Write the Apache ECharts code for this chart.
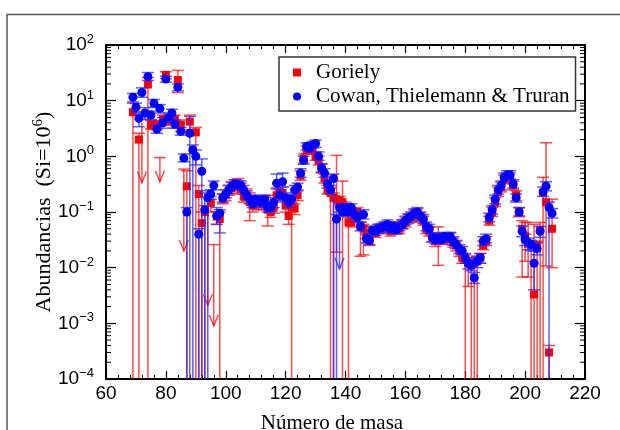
<!DOCTYPE html>
<html>
<head>
<meta charset="utf-8">
<script src="https://cdn.jsdelivr.net/npm/echarts@6.0.0/dist/echarts.min.js"></script>
<style>
  html, body { margin: 0; padding: 0; background: #fff; }
  #main { width: 620px; height: 430px; }
</style>
</head>
<body>
<div id="main"></div>
<script>
// Goriely: mass number, abundance, lower / upper end of the bar (0 = runs below the axis)
var gorMass = [69, 71, 74, 75, 76, 77, 79, 80, 81, 82,
  83, 84, 85, 87, 88, 90, 91, 92, 93, 95,
  97, 98, 99, 100, 101, 102, 103, 104, 105, 106,
  107, 108, 109, 110, 111, 112, 113, 114, 115, 116,
  117, 118, 119, 120, 121, 122, 123, 124, 125, 126,
  127, 128, 129, 130, 131, 132, 133, 134, 135, 136,
  137, 138, 139, 140, 141, 142, 143, 144, 145, 146,
  147, 148, 149, 150, 151, 152, 153, 154, 155, 156,
  157, 158, 159, 160, 161, 162, 163, 164, 165, 166,
  167, 168, 169, 170, 171, 172, 173, 174, 175, 176,
  177, 178, 179, 180, 181, 182, 183, 184, 185, 186,
  187, 188, 189, 190, 191, 192, 193, 194, 195, 196,
  197, 198, 199, 200, 201, 202, 203, 204, 205, 206,
  207, 208, 209];
var gorVal = [6.2, 2.0, 19.5, 3.7, 3.7, 3.6, 4.6, 29, 4.6, 4.4,
  4.6, 23.5, 3.7, 0.29, 4.2, 2.7, 0.21, 0.063, 0.1, 0.145,
  0.083, 0.075, 0.17, 0.2, 0.24, 0.27, 0.3, 0.3, 0.26, 0.19,
  0.2, 0.15, 0.13, 0.15, 0.14, 0.14, 0.15, 0.11, 0.1, 0.12,
  0.2, 0.23, 0.22, 0.13, 0.085, 0.12, 0.115, 0.2, 0.45, 0.9,
  1.3, 1.4, 1.3, 1.0, 0.85, 0.6, 0.4, 0.25, 0.22, 0.18,
  0.17, 0.16, 0.15, 0.12, 0.065, 0.065, 0.08, 0.1, 0.055, 0.05,
  0.04, 0.03, 0.045, 0.042, 0.05, 0.05, 0.055, 0.055, 0.045, 0.055,
  0.05, 0.05, 0.06, 0.065, 0.075, 0.08, 0.09, 0.095, 0.08, 0.07,
  0.05, 0.045, 0.035, 0.03, 0.03, 0.035, 0.035, 0.032, 0.035, 0.028,
  0.025, 0.02, 0.015, 0.014, 0.012, 0.011, 0.012, 0.013, 0.015, 0.025,
  0.03, 0.07, 0.1, 0.15, 0.23, 0.28, 0.38, 0.42, 0.42, 0.3,
  0.2, 0.1, 0.05, 0.037, 0.027, 0.025, 0.0033, 0.025, 0.048, 0.22,
  0.15, 0.0003, 0.05];
var gorLo = [0, 0, 0, 3.1, 3.1, 3.0, 3.8, 25, 3.8, 3.6,
  3.2, 14, 2.8, 0, 3.0, 0, 0, 0, 0, 0.1,
  0.06, 0, 0.14, 0.16, 0.2, 0.22, 0.25, 0.25, 0.21, 0.15,
  0.16, 0.07, 0.1, 0.12, 0.11, 0.11, 0.12, 0.056, 0.08, 0.095,
  0.16, 0.18, 0.18, 0.1, 0.06, 0, 0.09, 0.16, 0.37, 0.75,
  1.1, 1.15, 1.1, 0.85, 0.7, 0.5, 0.33, 0.21, 0, 0,
  0.019, 0.13, 0, 0.1, 0, 0.054, 0.066, 0.08, 0.016, 0.017,
  0.033, 0.025, 0.037, 0.035, 0.041, 0.041, 0.045, 0.045, 0.037, 0.045,
  0.041, 0.041, 0.05, 0.054, 0.062, 0.066, 0.075, 0.079, 0.066, 0.058,
  0.041, 0.037, 0.029, 0.024, 0.011, 0.029, 0.029, 0.026, 0.029, 0.023,
  0.02, 0.016, 0.012, 0, 0.0046, 0, 0, 0, 0.012, 0.021,
  0.025, 0.058, 0.083, 0.125, 0.19, 0.23, 0.32, 0.35, 0.35, 0.25,
  0.16, 0.082, 0.0068, 0.013, 0.0068, 0, 0, 0, 0, 0,
  0.0107, 0, 0.01];
var gorHi = [9, 2.6, 26, 4.4, 4.4, 4.3, 5.5, 33, 5.5, 5.3,
  5.5, 35, 4.5, 0.55, 5.5, 3.3, 0.3, 0.1, 0.13, 0.19,
  0.1, 0.1, 0.21, 0.25, 0.3, 0.35, 0.38, 0.4, 0.33, 0.24,
  0.26, 0.22, 0.17, 0.19, 0.18, 0.18, 0.19, 0.2, 0.13, 0.15,
  0.26, 0.3, 0.28, 0.17, 0.12, 0.15, 0.14, 0.25, 0.55, 1.1,
  1.55, 1.7, 1.55, 1.2, 1.0, 0.72, 0.48, 0.3, 0.27, 0.22,
  1.04, 0.19, 0.36, 0.15, 0.08, 0.08, 0.095, 0.12, 0.066, 0.06,
  0.048, 0.036, 0.054, 0.05, 0.06, 0.06, 0.066, 0.066, 0.054, 0.066,
  0.06, 0.06, 0.072, 0.078, 0.09, 0.096, 0.108, 0.114, 0.096, 0.084,
  0.06, 0.054, 0.042, 0.036, 0.054, 0.042, 0.042, 0.038, 0.042, 0.034,
  0.03, 0.024, 0.018, 0.017, 0.015, 0.013, 0.015, 0.016, 0.018, 0.03,
  0.036, 0.084, 0.12, 0.18, 0.28, 0.34, 0.46, 0.5, 0.5, 0.36,
  0.24, 0.12, 0.07, 0.065, 0.065, 0.03, 0.06, 0.03, 0.065, 0.42,
  1.75, 0.0004, 0.17];
// Goriely upper limits (arrows)
var gorLimMass = [72, 78, 86, 94, 96];
var gorLimFrom = [4, 0.95, 0.59, 0.2, 0.026];
var gorLimTo = [0.34, 0.35, 0.02, 0.0021, 0.0009];
var gorLimCap = [0, 1, 1, 0, 1];

// Cowan, Thielemann & Truran
var ctMass = [69, 70, 71, 72, 73, 74, 75, 76, 77, 78,
  79, 80, 81, 82, 83, 84, 85, 86, 87, 88,
  89, 90, 91, 92, 93, 94, 95, 96, 97, 98,
  99, 100, 101, 102, 103, 104, 105, 106, 107, 108,
  109, 110, 111, 112, 113, 114, 115, 116, 117, 118,
  119, 120, 121, 122, 123, 124, 125, 126, 127, 128,
  129, 130, 131, 132, 133, 134, 135, 136, 137, 138,
  139, 140, 141, 142, 143, 144, 145, 146, 147, 148,
  149, 150, 151, 152, 153, 154, 155, 156, 157, 158,
  159, 160, 161, 162, 163, 164, 165, 166, 167, 168,
  169, 170, 171, 172, 173, 174, 175, 176, 177, 178,
  179, 180, 181, 182, 183, 184, 185, 186, 187, 188,
  189, 190, 191, 192, 193, 194, 195, 196, 197, 198,
  199, 200, 201, 202, 203, 204, 205, 206, 207, 208,
  209];
var ctVal = [11.5, 7.6, 4.8, 14, 6, 27, 5.5, 9, 3.1, 7.2,
  4, 24.5, 5, 6, 3.8, 17.5, 2.8, 0.93, 0.1, 2.6,
  1.3, 1.0, 0.04, 0.54, 0.11, 0.18, 0.21, 0.3, 0.085, 0.095,
  0.18, 0.21, 0.25, 0.29, 0.32, 0.31, 0.3, 0.25, 0.2, 0.17,
  0.14, 0.17, 0.16, 0.15, 0.17, 0.12, 0.12, 0.15, 0.33, 0.2,
  0.35, 0.18, 0.15, 0.17, 0.25, 0.28, 0.5, 0.85, 1.5, 1.4,
  1.6, 1.7, 1.0, 0.62, 0.5, 0.32, 0.25, 0.4, 0.075, 0.12,
  0.1, 0.12, 0.1, 0.12, 0.09, 0.08, 0.055, 0.09, 0.033, 0.031,
  0.047, 0.045, 0.05, 0.052, 0.055, 0.06, 0.05, 0.055, 0.048, 0.055,
  0.06, 0.07, 0.078, 0.085, 0.095, 0.1, 0.085, 0.075, 0.055, 0.05,
  0.035, 0.032, 0.034, 0.032, 0.036, 0.035, 0.036, 0.03, 0.026, 0.022,
  0.02, 0.015, 0.012, 0.011, 0.0066, 0.013, 0.015, 0.03, 0.033, 0.08,
  0.11, 0.17, 0.25, 0.3, 0.42, 0.46, 0.46, 0.32, 0.18, 0.1,
  0.045, 0.032, 0.028, 0.026, 0.012, 0.022, 0.045, 0.23, 0.29, 0.12,
  0.095];
var ctLo = [9.5, 6.3, 3.4, 11.5, 4.6, 23, 4.6, 7.6, 2.6, 6,
  3.2, 21.5, 4.1, 5, 3.2, 15, 2.4, 0.8, 0, 0,
  0, 0.7, 0, 0, 0, 0, 0.17, 0.25, 0.06, 0.042,
  0.15, 0.18, 0.21, 0.25, 0.27, 0.26, 0.25, 0.21, 0.17, 0.14,
  0.12, 0.14, 0.13, 0.12, 0.14, 0.1, 0.1, 0.12, 0.27, 0.16,
  0.28, 0.15, 0.12, 0.14, 0.21, 0.24, 0.42, 0.72, 1.3, 1.2,
  1.4, 1.45, 0.85, 0.52, 0.42, 0.27, 0.21, 0, 0, 0.1,
  0.085, 0.1, 0.085, 0.1, 0.075, 0.067, 0.046, 0.075, 0.028, 0.026,
  0.04, 0.038, 0.042, 0.044, 0.046, 0.05, 0.042, 0.046, 0.04, 0.046,
  0.05, 0.059, 0.065, 0.071, 0.08, 0.084, 0.071, 0.063, 0.046, 0.042,
  0.029, 0.027, 0.028, 0.027, 0.03, 0.029, 0.03, 0.025, 0.022, 0.018,
  0.017, 0.012, 0.0095, 0.0088, 0.0052, 0.01, 0.012, 0.025, 0.028, 0.067,
  0.092, 0.14, 0.21, 0.25, 0.35, 0.39, 0.39, 0.27, 0.15, 0.085,
  0.036, 0.025, 0.021, 0.02, 0.004, 0.017, 0.035, 0.19, 0.24, 0,
  0.078];
var ctHi = [13.5, 9, 6, 17, 7.5, 32, 6.5, 10.5, 3.7, 8.5,
  5, 27.5, 6, 7, 4.5, 20, 3.3, 1.1, 0.12, 5.2,
  1.6, 1.3, 0.05, 0.9, 0.22, 0.24, 0.25, 0.36, 0.12, 0.11,
  0.21, 0.25, 0.3, 0.34, 0.38, 0.37, 0.36, 0.3, 0.24, 0.2,
  0.17, 0.2, 0.19, 0.18, 0.2, 0.15, 0.15, 0.18, 0.48, 0.25,
  0.5, 0.22, 0.18, 0.2, 0.3, 0.33, 0.6, 1.0, 1.75, 1.65,
  1.85, 1.95, 1.2, 0.74, 0.6, 0.38, 0.3, 0.48, 0.09, 0.14,
  0.12, 0.14, 0.12, 0.14, 0.11, 0.095, 0.066, 0.11, 0.04, 0.037,
  0.056, 0.054, 0.06, 0.062, 0.066, 0.072, 0.06, 0.066, 0.057, 0.066,
  0.072, 0.084, 0.093, 0.1, 0.114, 0.12, 0.1, 0.09, 0.066, 0.06,
  0.042, 0.038, 0.041, 0.038, 0.043, 0.042, 0.043, 0.036, 0.031, 0.026,
  0.024, 0.018, 0.015, 0.014, 0.0082, 0.016, 0.018, 0.036, 0.04, 0.095,
  0.13, 0.2, 0.3, 0.36, 0.5, 0.55, 0.55, 0.38, 0.21, 0.12,
  0.056, 0.04, 0.034, 0.031, 0.02, 0.028, 0.055, 0.28, 0.35, 0.15,
  0.115];
// Cowan upper limit (arrow)
var ctLimMass = [138];
var ctLimFrom = [0.1];
var ctLimTo = [0.0095];
var ctLimCap = [0];

// log axis minor ticks: 2..9 inside each decade
var yDecades = [1e-4, 1e-3, 1e-2, 1e-1, 1, 10];
var yMinorSteps = [2, 3, 4, 5, 6, 7, 8, 9];

var RED = 'rgba(255,0,0,0.7)';
var BLUE = 'rgba(40,40,255,0.75)';

var chart = echarts.init(document.getElementById('main'));

function barItem(color) {
  return function (params, api) {
    var cs = params.coordSys;
    var x = api.value(0), lo = api.value(2), hi = api.value(3);
    var top = api.coord([x, hi]);
    var px = top[0];
    var bottom = cs.y + cs.height;
    var yLo = lo > 0 ? Math.min(api.coord([x, lo])[1], bottom) : bottom;
    var st = { stroke: color, lineWidth: 1.5 };
    var kids = [
      { type: 'line', shape: { x1: px, y1: top[1], x2: px, y2: yLo }, style: st },
      { type: 'line', shape: { x1: px - 6, y1: top[1], x2: px + 6, y2: top[1] }, style: st }
    ];
    if (lo > 0) {
      kids.push({ type: 'line', shape: { x1: px - 6, y1: yLo, x2: px + 6, y2: yLo }, style: st });
    }
    return { type: 'group', children: kids };
  };
}

function arrowItem(color) {
  return function (params, api) {
    var x = api.value(0);
    var p1 = api.coord([x, api.value(1)]);
    var p2 = api.coord([x, api.value(2)]);
    var st = { stroke: color, lineWidth: 1.5, fill: null };
    var kids = [
      { type: 'line', shape: { x1: p1[0], y1: p1[1], x2: p2[0], y2: p2[1] }, style: st },
      { type: 'polyline', shape: { points: [[p2[0] - 4.5, p2[1] - 11], [p2[0], p2[1]], [p2[0] + 4.5, p2[1] - 11]] }, style: st }
    ];
    if (api.value(3) > 0) {
      kids.push({ type: 'line', shape: { x1: p1[0] - 6, y1: p1[1], x2: p1[0] + 6, y2: p1[1] }, style: st });
    }
    return { type: 'group', children: kids };
  };
}

function minorTickItem(params, api) {
  var cs = params.coordSys;
  var y = api.coord([60, api.value(1)])[1];
  var st = { stroke: '#000', lineWidth: 1 };
  return {
    type: 'group',
    children: [
      { type: 'line', shape: { x1: cs.x, y1: y, x2: cs.x + 5, y2: y }, style: st },
      { type: 'line', shape: { x1: cs.x + cs.width - 5, y1: y, x2: cs.x + cs.width, y2: y }, style: st }
    ]
  };
}

var gorBars = gorMass.map(function (m, i) { return [m, gorVal[i], gorLo[i], gorHi[i]]; });
var ctBars = ctMass.map(function (m, i) { return [m, ctVal[i], ctLo[i], ctHi[i]]; });
var gorPts = gorMass.map(function (m, i) { return [m, gorVal[i]]; });
var ctPts = ctMass.map(function (m, i) { return [m, ctVal[i]]; });
var gorLims = gorLimMass.map(function (m, i) { return [m, gorLimFrom[i], gorLimTo[i], gorLimCap[i]]; });
var ctLims = ctLimMass.map(function (m, i) { return [m, ctLimFrom[i], ctLimTo[i], ctLimCap[i]]; });
var minorData = [];
yDecades.forEach(function (d) {
  yMinorSteps.forEach(function (k) { minorData.push([60, d * k]); });
});

function supLabel(v) {
  var e = Math.round(Math.log10(v));
  var s = e < 0 ? '\u2212' + (-e) : '' + e;
  return '{b|10}{s|' + s + '}';
}

var axisFont = 'Liberation Sans';
var serif = 'Liberation Serif';

var option = {
  animation: false,
  backgroundColor: '#fff',
  grid: { left: 106, right: 35, top: 45, bottom: 51, show: false },
  legend: {
    data: ['Goriely', 'Cowan, Thielemann & Truran'],
    orient: 'vertical',
    left: 279,
    top: 57,
    itemWidth: 8,
    itemHeight: 8,
    itemGap: 3,
    padding: [5, 6, 4, 14],
    borderColor: '#333',
    borderWidth: 1.5,
    backgroundColor: '#fff',
    textStyle: { fontFamily: serif, fontSize: 21, color: '#000', padding: [0, 0, 0, 10] }
  },
  xAxis: [{
    type: 'value', min: 60, max: 220, interval: 20, position: 'bottom',
    axisLine: { lineStyle: { color: '#000', width: 2 } },
    axisTick: { inside: true, length: 8, lineStyle: { color: '#000', width: 1.2 } },
    minorTick: { show: true, splitNumber: 5, length: 4, lineStyle: { color: '#000', width: 1 } },
    axisLabel: { fontFamily: axisFont, fontSize: 19, color: '#000', margin: 5 },
    splitLine: { show: false }
  }, {
    type: 'value', min: 60, max: 220, interval: 20, position: 'top',
    axisLine: { lineStyle: { color: '#000', width: 2 } },
    axisTick: { inside: true, length: 8, lineStyle: { color: '#000', width: 1.2 } },
    minorTick: { show: true, splitNumber: 5, length: 4, lineStyle: { color: '#000', width: 1 } },
    axisLabel: { show: false },
    splitLine: { show: false }
  }],
  yAxis: [{
    type: 'log', logBase: 10, min: 1e-4, max: 100, splitNumber: 6, position: 'left',
    axisLine: { show: true, lineStyle: { color: '#000', width: 2 } },
    axisTick: { inside: true, length: 10, lineStyle: { color: '#000', width: 1.2 } },
    axisLabel: {
      margin: 12,
      formatter: supLabel,
      rich: {
        b: { fontFamily: axisFont, fontSize: 19, color: '#000', lineHeight: 24 },
        s: { fontFamily: axisFont, fontSize: 13, color: '#000', lineHeight: 13, verticalAlign: 'top' }
      }
    },
    splitLine: { show: false }
  }, {
    type: 'log', logBase: 10, min: 1e-4, max: 100, splitNumber: 6, position: 'right',
    axisLine: { show: true, lineStyle: { color: '#000', width: 2 } },
    axisTick: { inside: true, length: 10, lineStyle: { color: '#000', width: 1.2 } },
    axisLabel: { show: false },
    splitLine: { show: false }
  }],
  graphic: [
    {
      type: 'polyline', silent: true,
      shape: { points: [[7, 430], [7, 14.5], [620, 14.5]] },
      style: { stroke: '#555', lineWidth: 1.5, fill: null }
    },
    {
      type: 'text', x: 44, y: 212, rotation: Math.PI / 2, silent: true,
      style: {
        text: '{n|Abundancias  (Si=10}{s|6}{n|)}',
        align: 'center', verticalAlign: 'middle',
        rich: {
          n: { fontFamily: serif, fontSize: 22, fill: '#000', lineHeight: 27 },
          s: { fontFamily: serif, fontSize: 15, fill: '#000', lineHeight: 15, verticalAlign: 'top' }
        }
      }
    },
    {
      type: 'text', x: 332, y: 423, silent: true,
      style: {
        text: 'Número de masa', fontFamily: serif, fontSize: 21, fill: '#000',
        align: 'center', verticalAlign: 'middle'
      }
    }
  ],
  series: [
    {
      name: 'minor', type: 'custom', silent: true, renderItem: minorTickItem,
      encode: { x: 0, y: 1 }, data: minorData, z: 1
    },
    {
      name: 'gorBars', type: 'custom', silent: true, renderItem: barItem(RED),
      encode: { x: 0, y: 1 }, data: gorBars, z: 2
    },
    {
      name: 'gorLims', type: 'custom', silent: true, renderItem: arrowItem(RED),
      encode: { x: 0, y: 1 }, data: gorLims, z: 2
    },
    {
      name: 'Goriely', type: 'scatter', symbol: 'rect', symbolSize: 8,
      itemStyle: { color: '#ff0000', opacity: 1 }, data: gorPts, z: 3
    },
    {
      name: 'ctBars', type: 'custom', silent: true, renderItem: barItem(BLUE),
      encode: { x: 0, y: 1 }, data: ctBars, z: 4
    },
    {
      name: 'ctLims', type: 'custom', silent: true, renderItem: arrowItem(BLUE),
      encode: { x: 0, y: 1 }, data: ctLims, z: 4
    },
    {
      name: 'Cowan, Thielemann & Truran', type: 'scatter', symbol: 'circle', symbolSize: 9,
      itemStyle: { color: '#0000ff', opacity: 1 }, data: ctPts, z: 5
    }
  ]
};

chart.setOption(option);
</script>
</body>
</html>
